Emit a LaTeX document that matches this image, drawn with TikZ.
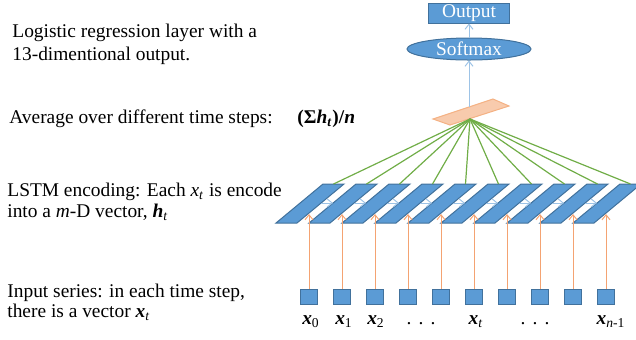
\documentclass[tikz,border=0pt]{standalone}
\usepackage{fontspec}
\setmainfont{Liberation Serif}
\usepackage{tikz}
\usetikzlibrary{shapes.geometric,arrows.meta}
\definecolor{boxblue}{HTML}{5B9BD5}
\definecolor{edgeblue}{HTML}{41719C}
\definecolor{linkblue}{HTML}{9DC3E6}
\definecolor{poolfill}{HTML}{F8CBAD}
\definecolor{pooledge}{HTML}{F4B183}
\definecolor{fangreen}{HTML}{70AD47}
\definecolor{inorange}{HTML}{F4A372}
\newcommand{\bvec}[2]{\textbf{\textit{#1}}\textsubscript{#2}}
\newcommand{\sdots}{.\hspace{3.6pt}.\hspace{3.6pt}.}

\begin{document}
\begin{tikzpicture}[x=0.5pt, y=-0.5pt, font=\fontsize{9.7}{11}\selectfont,
  bluebox/.style={draw=edgeblue, fill=boxblue, line width=0.5pt},
  upline/.style={draw=linkblue, line width=0.5pt, -{Straight Barb[length=2.5pt,width=4pt]}},
  inline/.style={draw=inorange, line width=0.5pt, -{Straight Barb[length=2.5pt,width=4pt]}},
  fanline/.style={draw=fangreen, line width=0.6pt}]
  \useasboundingbox (0,0) rectangle (636,339);
  % left column text
  \node[anchor=base west, inner sep=0] (lr1) at (12,37) {Logistic regression layer with a};
  \node[anchor=base west, inner sep=0] (lr2) at (12,60) {13-dimentional output.};
  \node[anchor=base west, inner sep=0] (avg) at (9,123) {Average over different time steps:};
  \node[anchor=base west, inner sep=0] (mean) at (297,123) {\textbf{(Σ\textit{h}\textsubscript{\textit{t}})/\textit{n}}};
  \node[anchor=base west, inner sep=0] (enc1) at (7,196) {LSTM encoding: Each \textit{x}\textsubscript{\textit{t}} is encode};
  \node[anchor=base west, inner sep=0] (enc2) at (7,217) {into a \textit{m}-D vector, \bvec{h}{\textit{t}}};
  \node[anchor=base west, inner sep=0] (in1) at (7,297) {Input series: in each time step,};
  \node[anchor=base west, inner sep=0] (in2) at (7,317) {there is a vector \bvec{x}{\textit{t}}};
  % output and softmax
  \node[bluebox, text=white, minimum width=40.5pt, minimum height=10pt, inner sep=0] (out) at (469,13) {Output};
  \node[bluebox, ellipse, text=white, minimum width=62pt, minimum height=11pt, inner sep=0] (soft) at (469,49) {Softmax};
  \draw[upline] (soft) -- (out);
  % average plane
  \draw[fill=poolfill, draw=pooledge, line width=0.5pt] (433,119) -- (493,99) -- (509,106) -- (450,125) -- cycle;
  \coordinate (pooltop) at (469,107);
  \coordinate (pool) at (470,119);
  \draw[upline] (pooltop) -- (soft);
  % LSTM cells
  \foreach \i in {0,...,9} {
    \pgfmathsetmacro\bx{276+33*\i}
    \coordinate (c\i-bl) at (\bx,223);
    \coordinate (c\i-br) at (\bx+21,223);
    \coordinate (c\i-tr) at (\bx+68,184);
    \coordinate (c\i-tl) at (\bx+47,184);
    \coordinate (c\i-top) at (\bx+57.5,184);
    \coordinate (c\i-l) at (\bx+24,203);
    \coordinate (c\i-r) at (\bx+45,203);
    \coordinate (in\i) at (\bx+33,214);
    \draw[bluebox] (c\i-bl) -- (c\i-br) -- (c\i-tr) -- (c\i-tl) -- cycle;
  }
  % recurrent links
  \foreach \i [evaluate=\i as \j using int(\i+1)] in {0,...,8}
    \draw[upline] (c\i-r) -- (c\j-l);
  % fan into the average
  \foreach \i in {0,...,9}
    \draw[fanline] (c\i-top) -- (pool);
  % input vectors
  \foreach \i in {0,...,9} {
    \node[bluebox, minimum width=8.5pt, minimum height=7.5pt, inner sep=0] (x\i) at (309+33*\i,296.5) {};
    \draw[inline] (x\i) -- (in\i);
  }
  % input labels
  \node[anchor=base] (l0) at (311,324) {\bvec{x}{0}};
  \node[anchor=base] (l1) at (344,324) {\bvec{x}{1}};
  \node[anchor=base] (l2) at (376,324) {\bvec{x}{2}};
  \node[anchor=base] (d1) at (421,324) {\sdots};
  \node[anchor=base] (lt) at (476,324) {\bvec{x}{\textit{t}}};
  \node[anchor=base] (d2) at (535,324) {\sdots};
  \node[anchor=base] (ln) at (611,324) {\bvec{x}{\textit{n}-1}};
\end{tikzpicture}
\end{document}
